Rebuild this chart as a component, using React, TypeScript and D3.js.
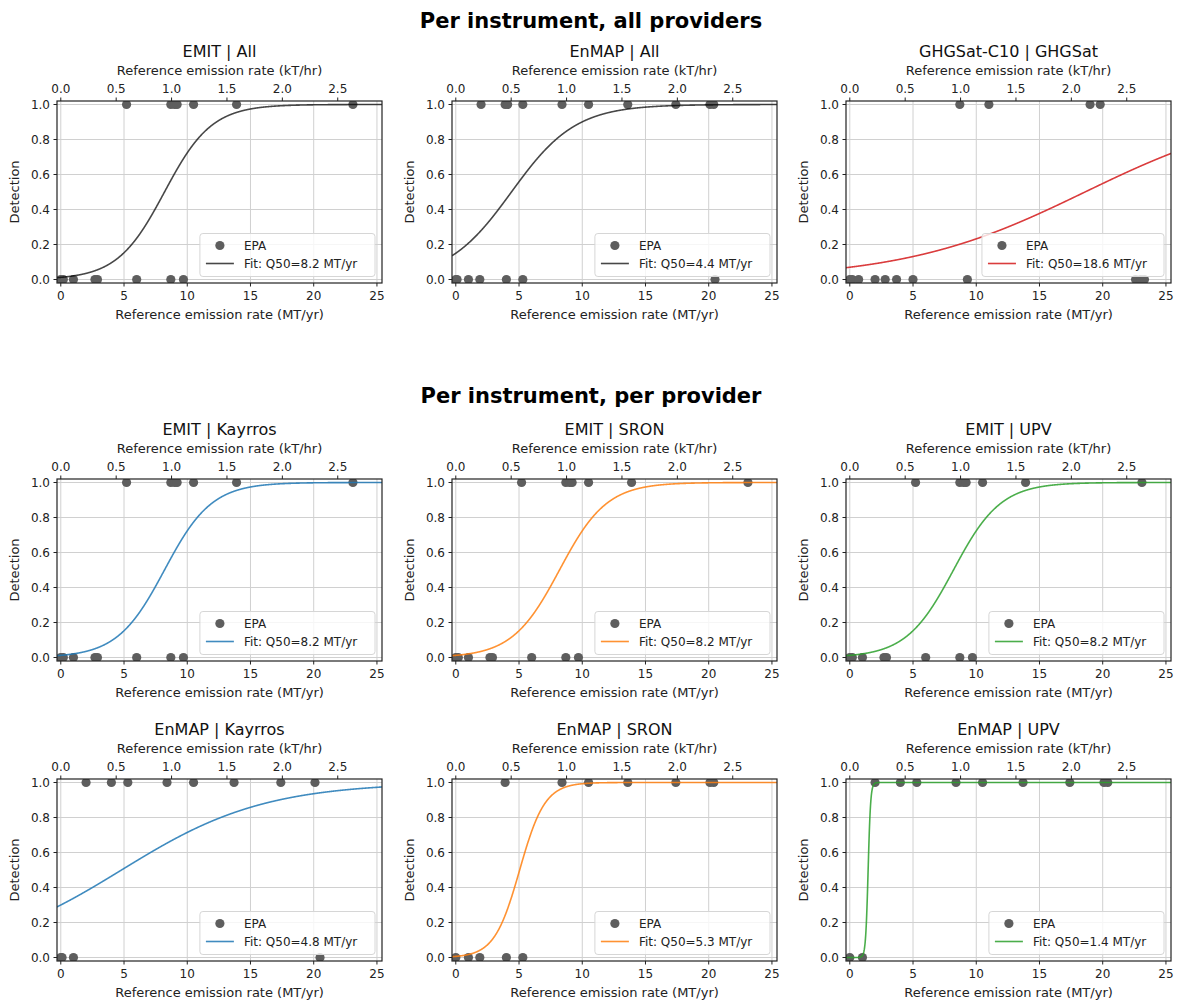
import React from 'react';
import * as d3 from 'd3';

// detection points (MT/yr), split by detected (1) / not detected (0)
const emitHit = [5.2, 8.7, 9.0, 9.2, 10.5, 13.9, 23.1];
const emitMiss = [0, 0.2, 1.0, 2.7, 2.9, 6.0, 8.7, 9.7];
const enmapAllHit = [2.0, 3.9, 4.1, 5.3, 8.4, 10.5, 13.6, 17.4, 20.1, 20.4];
const enmapAllMiss = [0, 0.1, 1.0, 1.9, 4.0, 5.3, 20.5];
const ghgHit = [8.7, 11.0, 19.0, 19.8];
const ghgMiss = [0, 0.2, 0.7, 2.0, 2.8, 3.7, 5.0, 9.3, 22.6, 23.0, 23.3];
const enmapKayrrosHit = [2.0, 4.0, 5.3, 8.4, 10.5, 13.7, 17.4, 20.1];
const enmapKayrrosMiss = [0, 0.1, 1.0, 20.5];
const enmapSronHit = [3.9, 8.4, 10.5, 13.6, 17.4, 20.1, 20.4];
const enmapSronMiss = [0, 1.0, 1.9, 4.0, 5.3];
const enmapUpvHit = [2.0, 4.0, 5.3, 8.4, 10.5, 13.7, 17.4, 20.1, 20.4];
const enmapUpvMiss = [0, 1.0];

const panelTitles = [
  'EMIT | All', 'EnMAP | All', 'GHGSat-C10 | GHGSat',
  'EMIT | Kayrros', 'EMIT | SRON', 'EMIT | UPV',
  'EnMAP | Kayrros', 'EnMAP | SRON', 'EnMAP | UPV',
];
const panelHits = [emitHit, enmapAllHit, ghgHit, emitHit, emitHit, emitHit, enmapKayrrosHit, enmapSronHit, enmapUpvHit];
const panelMisses = [emitMiss, enmapAllMiss, ghgMiss, emitMiss, emitMiss, emitMiss, enmapKayrrosMiss, enmapSronMiss, enmapUpvMiss];
const q50Labels = ['8.2', '4.4', '18.6', '8.2', '8.2', '8.2', '4.8', '5.3', '1.4'];
// logistic fit parameters (midpoint, slope) estimated from the drawn curves
const fitMid = [8.2, 4.4, 18.6, 8.2, 8.2, 8.2, 4.8, 5.05, 1.45];
const fitSlope = [0.535, 0.394, 0.139, 0.535, 0.535, 0.535, 0.1765, 1.0, 10];
const fitColors = ['#000000', '#000000', '#d62728', '#1f77b4', '#ff7f0e', '#2ca02c', '#1f77b4', '#ff7f0e', '#2ca02c'];
const fitAlpha = [0.72, 0.72, 0.9, 0.85, 0.85, 0.85, 0.85, 0.85, 0.85];

const bottomTicks = [0, 5, 10, 15, 20, 25];
const topTicks = [0, 0.5, 1.0, 1.5, 2.0, 2.5];
const yTicks = [0, 0.2, 0.4, 0.6, 0.8, 1.0];
const MT_PER_KTHR = 8.76;

const colLefts = [57, 452, 846];
const rowTops = [101, 479, 779];
const W = 325;
const H = 182;
const FONT = '"DejaVu Sans", sans-serif';

const Panel: React.FC<{ i: number }> = ({ i }) => {
  const left = colLefts[i % 3];
  const top = rowTops[Math.floor(i / 3)];
  const x = d3.scaleLinear().domain([-0.3, 25.4]).range([0, W]);
  const xTop = d3.scaleLinear().domain([-0.3 / MT_PER_KTHR, 25.4 / MT_PER_KTHR]).range([0, W]);
  const y = d3.scaleLinear().domain([-0.02, 1.02]).range([H, 0]);
  const mid = fitMid[i];
  const k = fitSlope[i];
  const curve = d3.range(-0.3, 25.45, 0.02).map(v => [v, 1 / (1 + Math.exp(-k * (v - mid)))] as [number, number]);
  const line = d3.line<[number, number]>().x(d => x(d[0])).y(d => y(d[1]));
  const clipId = `clip${i}`;
  const fitLabel = `Fit: Q50=${q50Labels[i]} MT/yr`;
  const legW = 44 + fitLabel.length * 6.95 + 6;
  const legH = 43;
  const legX = W - 7 - legW;
  const legY = H - 6.5 - legH;
  const pts = [
    ...panelHits[i].map(v => ({ v, d: 1 })),
    ...panelMisses[i].map(v => ({ v, d: 0 })),
  ];
  return (
    <g transform={`translate(${left},${top})`} fontFamily={FONT}>
      <defs>
        <clipPath id={clipId}><rect width={W} height={H} /></clipPath>
      </defs>
      <rect width={W} height={H} fill="#fff" />
      {bottomTicks.map(t => (
        <line key={`gx${t}`} x1={x(t)} x2={x(t)} y1={0} y2={H} stroke="#d0d0d0" strokeWidth={1} />
      ))}
      {yTicks.map(t => (
        <line key={`gy${t}`} x1={0} x2={W} y1={y(t)} y2={y(t)} stroke="#d0d0d0" strokeWidth={1} />
      ))}
      <g clipPath={`url(#${clipId})`}>
        {pts.map((p, j) => (
          <circle key={j} cx={x(p.v)} cy={y(p.d)} r={4.6} fill="#5e5e5e" />
        ))}
        <path d={line(curve) || ''} fill="none" stroke={fitColors[i]} strokeOpacity={fitAlpha[i]} strokeWidth={1.6} />
      </g>
      <rect width={W} height={H} fill="none" stroke="#222" strokeWidth={1.2} />
      {/* bottom axis */}
      {bottomTicks.map(t => (
        <g key={`bt${t}`} transform={`translate(${x(t)},${H})`}>
          <line y2={3.5} stroke="#222" />
          <text y={17} textAnchor="middle" fontSize={12} fill="#222">{t}</text>
        </g>
      ))}
      <text x={W / 2} y={H + 36} textAnchor="middle" fontSize={13} fill="#222">Reference emission rate (MT/yr)</text>
      {/* top axis */}
      {topTicks.map(t => (
        <g key={`tt${t}`} transform={`translate(${xTop(t)},0)`}>
          <line y2={-3.5} stroke="#222" />
          <text y={-8} textAnchor="middle" fontSize={12} fill="#222">{t.toFixed(1)}</text>
        </g>
      ))}
      <text x={W / 2} y={-26} textAnchor="middle" fontSize={13} fill="#222">Reference emission rate (kT/hr)</text>
      <text x={W / 2} y={-44} textAnchor="middle" fontSize={16} fill="#111">{panelTitles[i]}</text>
      {/* left axis */}
      {yTicks.map(t => (
        <g key={`yt${t}`} transform={`translate(0,${y(t)})`}>
          <line x2={-3.5} stroke="#222" />
          <text x={-7} dy="0.35em" textAnchor="end" fontSize={12} fill="#222">{t.toFixed(1)}</text>
        </g>
      ))}
      <text transform={`translate(${-38},${H / 2}) rotate(-90)`} textAnchor="middle" fontSize={13} fill="#222">Detection</text>
      {/* legend */}
      <g transform={`translate(${legX},${legY})`}>
        <rect width={legW} height={legH} rx={3} fill="#fff" fillOpacity={0.8} stroke="#d6d6d6" />
        <circle cx={20} cy={12} r={4.6} fill="#5e5e5e" />
        <text x={44} y={12} dy="0.35em" fontSize={12} fill="#222">EPA</text>
        <line x1={6} x2={34} y1={30} y2={30} stroke={fitColors[i]} strokeOpacity={fitAlpha[i]} strokeWidth={1.6} />
        <text x={44} y={30} dy="0.35em" fontSize={12} fill="#222">{fitLabel}</text>
      </g>
    </g>
  );
};

export default function App() {
  return (
    <div style={{ position: 'absolute', left: 0, top: 0 }}>
      <svg width={1179} height={1008} style={{ display: 'block', background: '#fff' }}>
        <text x={591} y={28} textAnchor="middle" fontSize={21} fontWeight="bold" fontFamily={FONT}>Per instrument, all providers</text>
        <text x={591} y={403} textAnchor="middle" fontSize={21} fontWeight="bold" fontFamily={FONT}>Per instrument, per provider</text>
        {panelTitles.map((_, i) => <Panel key={i} i={i} />)}
      </svg>
    </div>
  );
}
